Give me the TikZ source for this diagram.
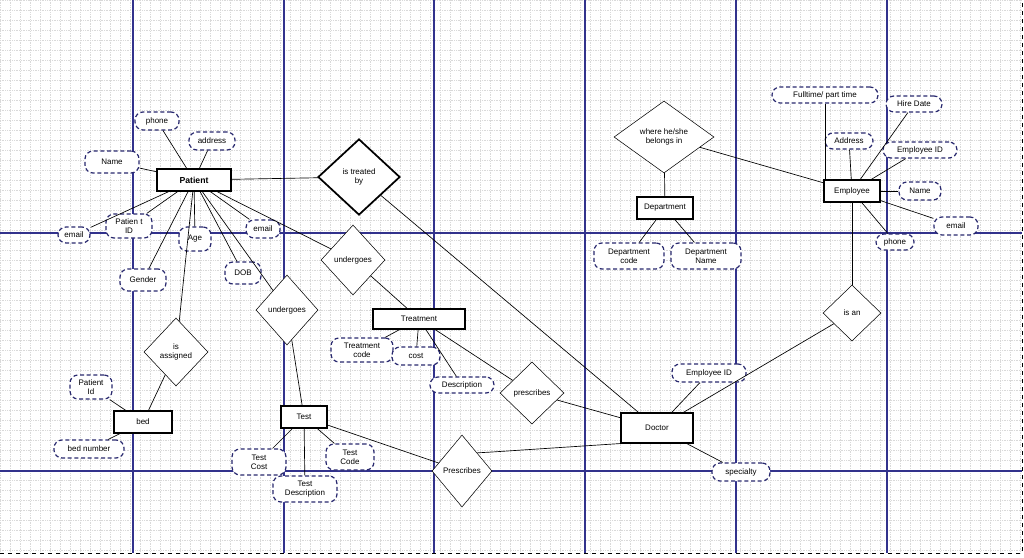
\documentclass[tikz,border=0pt]{standalone}
\usepackage{fontspec}
\setmainfont{Liberation Sans}
\usetikzlibrary{shapes.geometric}
\definecolor{gridblue}{RGB}{50,50,140}
\definecolor{attrcol}{RGB}{40,40,110}
\begin{document}
\begin{tikzpicture}[x=0.75pt,y=-0.75pt,
  every node/.style={font=\fontsize{6}{7}\selectfont,align=center,inner sep=0pt},
  attr/.style 2 args={draw=attrcol,densely dashed,line width=0.9pt,rounded corners=6pt,fill=white,minimum width=#1*0.75pt,minimum height=#2*0.75pt},
  ent/.style 2 args={draw=black,line width=0.8pt,fill=white,minimum width=#1*0.75pt,minimum height=#2*0.75pt},
  rel/.style 2 args={diamond,draw=black,fill=white,minimum width=#1*0.75pt,minimum height=#2*0.75pt},
  ln/.style={draw=black,line width=0.5pt},
  gridln/.style={gray!30,densely dotted,line width=0.3pt}]
\useasboundingbox (0,0) rectangle (1024,557);
\fill[white] (0,0) rectangle (1024,557);
\foreach \x in {0,10,...,1020} \draw[gridln] (\x,0) -- (\x,553);
\foreach \y in {0,10,...,550} \draw[gridln] (0,\y) -- (1022,\y);
\foreach \x in {133,284,434,585,736,887} \draw[gridblue,line width=0.8pt] (\x,0) -- (\x,553);
\foreach \y in {233,471} \draw[gridblue,line width=0.8pt] (0,\y) -- (1022,\y);
\draw[black,dashed,line width=0.4pt] (0,553) -- (1022,553) -- (1022,0);
\node[ent={74}{22},font=\fontsize{6.5}{7}\selectfont\bfseries] (pat) at (194,180) {Patient};
\node[attr={44}{18}] (pphone) at (157,121) {phone};
\node[attr={46}{18}] (paddr) at (212,141) {address};
\node[attr={54}{22}] (pname) at (112,162) {Name};
\node[attr={32}{16}] (pemail) at (74,235) {email};
\node[attr={46}{24}] (pid) at (129,226) {Patien t\\ID};
\node[attr={32}{24}] (page) at (195,239) {Age};
\node[attr={46}{22}] (pgen) at (143,280) {Gender};
\node[attr={36}{22}] (pdob) at (243,273) {DOB};
\node[attr={34}{18}] (pemail2) at (263,229) {email};
\node[rel={82}{76},line width=1.3pt] (treat) at (359,177) {is treated\\by};
\node[rel={64}{70}] (und1) at (353,260) {undergoes};
\node[rel={62}{70}] (und2) at (287,310) {undergoes};
\node[rel={64}{68}] (assig) at (176,352) {is\\assigned};
\node[ent={58}{22}] (bed) at (143,422) {bed};
\node[attr={42}{24}] (bpid) at (91,387) {Patient\\Id};
\node[attr={70}{18}] (bnum) at (89,449) {bed number};
\node[ent={92}{20}] (trt) at (419,319) {Treatment};
\node[attr={62}{24}] (tcode) at (362,350) {Treatment\\code};
\node[attr={48}{18}] (tcost) at (416,356) {cost};
\node[attr={64}{16}] (tdesc) at (462,385) {Description};
\node[rel={64}{62}] (presc) at (532,393) {prescribes};
\node[ent={46}{22}] (test) at (304,417) {Test};
\node[attr={54}{26}] (tscost) at (259,462) {Test\\Cost};
\node[attr={48}{26}] (tscode) at (350,457) {Test\\Code};
\node[attr={64}{26}] (tsdesc) at (305,489) {Test\\Description};
\node[rel={60}{72}] (Presc) at (462,471) {Prescribes};
\node[ent={72}{30}] (doc) at (657,428) {Doctor};
\node[attr={74}{18}] (deid) at (709,373) {Employee ID};
\node[attr={58}{18}] (dspec) at (741,472) {specialty};
\node[rel={58}{56}] (isan) at (852,313) {is an};
\node[ent={56}{22}] (emp) at (852,191) {Employee};
\node[attr={48}{16}] (eaddr) at (849,141) {Address};
\node[attr={106}{16}] (eft) at (825,95) {Fulltime/ part time};
\node[attr={56}{16}] (ehire) at (914,104) {Hire Date};
\node[attr={74}{16}] (eid) at (920,150) {Employee ID};
\node[attr={42}{18}] (ename) at (920,191) {Name};
\node[attr={44}{18}] (eemail) at (956,226) {email};
\node[attr={38}{16}] (ephone) at (895,242) {phone};
\node[rel={100}{72}] (where) at (664,137) {where he/she\\belongs in};
\node[ent={56}{22}] (dept) at (665,208) {Department};
\node[attr={70}{26}] (dcode) at (629,256) {Department\\code};
\node[attr={70}{26}] (dname) at (706,256) {Department\\Name};
\coordinate (ftend) at (825,180);
\coordinate (pbend) at (492,452);
\foreach \a in {pphone,paddr,pname,pemail,pid,page,pgen,pdob,pemail2,treat,und1,und2,assig}
  \draw[ln] (pat) -- (\a);
\draw[ln] (treat) -- (doc);
\draw[ln] (und1) -- (trt);
\draw[ln] (und2) -- (test);
\draw[ln] (assig) -- (bed);
\draw[ln] (bed) -- (bpid);
\draw[ln] (bed) -- (bnum);
\foreach \a in {tcode,tcost,tdesc,presc} \draw[ln] (trt) -- (\a);
\draw[ln] (presc) -- (doc);
\foreach \a in {tscost,tscode,tsdesc,Presc} \draw[ln] (test) -- (\a);
\draw[ln] (Presc.north east) -- (pbend) -- (doc.south west);
\foreach \a in {deid,dspec,isan} \draw[ln] (doc) -- (\a);
\draw[ln] (isan) -- (emp);
\foreach \a in {eaddr,ehire,eid,ename,eemail,ephone,where} \draw[ln] (emp) -- (\a);
\draw[ln] (eft.south) -- (ftend);
\draw[ln] (where) -- (dept);
\draw[ln] (dept) -- (dcode);
\draw[ln] (dept) -- (dname);
\end{tikzpicture}
\end{document}
